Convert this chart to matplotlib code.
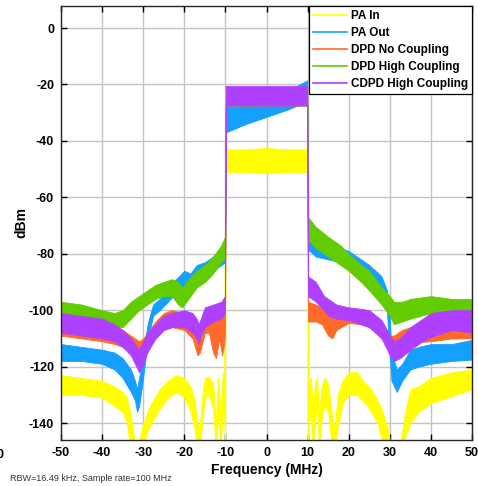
import matplotlib
matplotlib.use("Agg")
import matplotlib.pyplot as plt

plt.rcParams['font.family'] = ['Liberation Sans', 'DejaVu Sans']
plt.rcParams['axes.unicode_minus'] = False

labels = ["PA In", "PA Out", "DPD No Coupling", "DPD High Coupling", "CDPD High Coupling"]
colors = ["#FFFF00", "#14A0FF", "#FF6A2A", "#62CC00", "#B040FF"]

# ---- PA In (yellow): frequency, lower envelope, upper envelope ----
pa_in_f = [-50, -45, -40, -37, -35, -34, -33, -32, -31.5, -30.5, -30, -29, -28, -26, -24, -22, -20,
           -18.5, -17.5, -16.8, -16.3, -15.6, -15, -14, -13, -12.3, -11.8, -11.2, -10.6, -10.3, -10.05,
           -9.95, -5, 0, 5, 9.95,
           10.05, 10.3, 10.8, 11.3, 11.8, 12.3, 12.8, 13.3, 14, 15, 16, 16.6, 17.3, 18.5, 20, 22, 24, 25,
           27, 28, 29.5, 30.5, 32.5, 33.5, 35, 37, 40, 45, 50]
pa_in_lo = [-130, -130, -131, -134, -136, -140, -150, -150, -150, -150, -148, -143, -140, -135, -131, -129, -131,
            -136, -142, -150, -150, -140, -131, -130, -135, -150, -136, -150, -134, -138, -150,
            -51, -51, -51.5, -51, -51,
            -150, -140, -138, -150, -140, -133, -150, -140, -134, -136, -150, -150, -142, -133, -130, -130, -133, -135,
            -140, -146, -150, -150, -150, -146, -140, -136, -133, -130.5, -128]
pa_in_hi = [-123, -124, -125, -127, -129, -131, -137, -148, -150, -143, -140, -136, -133, -128, -125, -123, -124,
            -127, -132, -140, -142, -130, -124, -123.5, -126, -140, -124, -135, -122, -125, -43,
            -43, -43, -42.5, -43, -43,
            -43, -125, -124, -135, -126, -123.5, -138, -128, -124, -126, -138, -142, -130, -125, -122, -122, -126, -127,
            -132, -135, -142, -150, -148, -138, -128, -127, -124, -122, -121]

# ---- PA Out (blue) ----
pa_out_f = [-50, -45, -40, -37, -35, -33, -32, -31.5, -31, -30.3, -29.5, -28.8, -27.6, -26, -24, -22, -20,
            -18.5, -17, -15, -13, -11, -10.1,
            -9.9, -5, 0, 5, 9.9,
            10.1, 12, 15, 18, 20, 23, 25, 28, 29.3, 29.9, 30.4, 31.7, 33, 35, 37, 40, 45, 50]
pa_out_lo = [-118, -118, -119, -121, -124, -129, -132, -136, -134, -127, -118, -110, -102, -100, -97, -94, -91,
             -92, -90, -88, -86, -84, -83,
             -37, -34, -31.5, -29, -26,
             -78.5, -81, -82, -83, -85, -88, -90, -95, -100, -115, -125, -129, -125, -121, -120, -119, -118, -117.5]
pa_out_hi = [-112, -113, -114, -115, -117, -121, -125, -128, -124, -118, -110, -104, -98, -96, -92, -89, -86,
             -87, -84, -83, -81, -79, -77,
             -28, -26, -24.5, -22.5, -18.5,
             -71.5, -75, -77.5, -78, -79, -82, -84, -88, -93, -100, -115, -121, -119, -114, -113, -112, -112, -110.5]

# ---- DPD No Coupling (orange) ----
dpd_no_f = [-50, -45, -40, -37, -35, -33, -31, -30, -29, -27, -25, -23, -20, -18, -16.8, -16.2, -15, -14,
            -13, -12.3, -11.5, -10.8, -10.3, -10.1,
            -9.9, 0, 9.9,
            10.1, 12, 13.5, 15, 16, 17, 20, 23, 25, 28, 30, 31, 33, 35, 40, 45, 50]
dpd_no_lo = [-109, -110, -111, -112, -113, -115, -117, -116, -114, -110, -107, -106, -107, -110, -116, -115, -108, -108,
             -115, -117, -110, -116, -112, -108,
             -27, -27, -27,
             -104, -104, -105, -109, -110, -107, -104.5, -105, -106, -110, -113, -113, -112, -111.5, -111, -110, -110]
dpd_no_hi = [-102, -103, -104, -106, -107, -109, -111, -110, -108, -104, -101, -100, -101, -102, -105, -105, -101, -101,
             -103, -104, -102, -103, -100, -98,
             -21, -21, -21,
             -97, -98, -99, -101, -102, -101, -99, -100, -101, -104, -109, -109, -107, -106, -104, -103.5, -103]

# ---- DPD High Coupling (green) ----
dpd_hi_f = [-50, -45, -40, -37, -35, -33, -31, -29, -27, -25, -23, -21.5, -20.5, -19, -17, -15, -13, -11, -10.1,
            -9.9, 0, 9.9,
            10.1, 12, 15, 18, 20, 23, 25, 28, 30, 31, 33, 35, 40, 45, 50]
dpd_hi_lo = [-101, -102, -104, -106, -106, -103, -100, -98, -96, -95, -95, -98, -99, -96, -92, -90, -87, -83, -81,
             -27.8, -27.5, -27.5,
             -75, -78, -81, -84, -86, -90, -93, -98, -102, -105, -104, -103, -101, -101, -102]
dpd_hi_hi = [-97, -98, -100, -101, -100, -97, -95, -93, -91, -90, -89, -90, -92, -89, -86, -84, -81, -77, -74,
             -21, -21, -21,
             -67, -70.5, -74, -77, -80, -84, -86, -92, -95, -97, -97, -96, -95, -96, -96]

# ---- CDPD High Coupling (purple) ----
cdpd_f = [-50, -45, -40, -37, -35, -33, -32, -31, -30, -29, -27, -25, -23, -20, -18, -17, -16.5, -16, -15, -13,
          -11, -10.1,
          -9.9, -5, 0, 5, 9.9,
          10.1, 12, 14, 15, 17, 20, 23, 25, 28, 30, 31, 32.5, 35, 38, 40, 45, 50]
cdpd_lo = [-108, -109, -110, -111, -113, -116, -119, -122, -119, -115, -110, -107, -106, -106, -108, -110, -112, -109,
           -106, -104, -103, -101,
           -27.5, -27.5, -27.5, -27.5, -27.5,
           -95, -97, -100, -102, -103, -103.5, -105, -106, -110, -116, -118, -117, -114, -111, -109.5, -107, -108]
cdpd_hi = [-101, -102, -103, -105, -107, -110, -112, -114, -111, -108, -105, -102, -101, -100, -101, -103, -105, -103,
           -99, -98, -97, -95,
           -20.5, -20.5, -20.5, -20.5, -20.5,
           -88, -90, -95, -96, -98, -99, -99.5, -100, -103.5, -109, -111, -110, -106, -103, -101, -100, -100]

series = [
    (pa_in_f, pa_in_lo, pa_in_hi),
    (pa_out_f, pa_out_lo, pa_out_hi),
    (dpd_no_f, dpd_no_lo, dpd_no_hi),
    (dpd_hi_f, dpd_hi_lo, dpd_hi_hi),
    (cdpd_f, cdpd_lo, cdpd_hi),
]

x_ticks = [-50, -40, -30, -20, -10, 0, 10, 20, 30, 40, 50]
y_ticks = [-140, -120, -100, -80, -60, -40, -20, 0]

W, H = 478, 486
fig = plt.figure(figsize=(W / 100, H / 100), dpi=100)
ax = fig.add_axes([61 / W, 1 - 440 / H, (472 - 61) / W, (440 - 6) / H])

for (f, lo, hi), c, lab in zip(series, colors, labels):
    ax.fill_between(f, lo, hi, color=c, linewidth=0.6, edgecolor=c, zorder=2)
    ax.plot([], [], color=c, lw=1.2, label=lab)

ax.set_xlim(-50, 50)
ax.set_ylim(-146, 7.8)
ax.set_xticks(x_ticks)
ax.set_yticks(y_ticks)
ax.grid(True, color="#c4c4c4", linewidth=1.0, zorder=0)
ax.set_axisbelow(True)
ax.tick_params(direction="in", top=True, right=True, length=4, width=1,
               labelsize=9, pad=5)
for lab in ax.get_xticklabels() + ax.get_yticklabels():
    lab.set_fontweight("bold")
for s in ax.spines.values():
    s.set_linewidth(1.0)
    s.set_color("#262626")

ax.set_xlabel("Frequency (MHz)", fontsize=10, fontweight="bold", labelpad=3)
ax.set_ylabel("dBm", fontsize=10, fontweight="bold", labelpad=0.5)

leg = ax.legend(loc="upper right", borderaxespad=0, fancybox=False, framealpha=1,
                prop={"size": 8.5, "weight": "bold"}, handlelength=2.9, handletextpad=0.3,
                labelspacing=0.42, borderpad=0.35)
leg.get_frame().set_edgecolor("black")
leg.get_frame().set_linewidth(0.9)

fig.text(10 / W, 1 - 478 / H, "RBW=16.49 kHz, Sample rate=100 MHz", fontsize=6.5,
         color="#333333", va="center", ha="left")
fig.text(4 / W, 1 - 455 / H, "0", fontsize=9, fontweight="bold", va="center", ha="right")

fig.savefig("out.png", dpi=100)
